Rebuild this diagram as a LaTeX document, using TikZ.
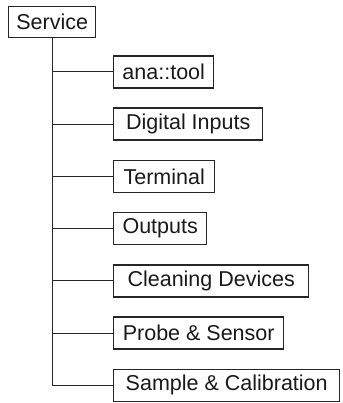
\documentclass[tikz,border=0pt]{standalone}
\usepackage{fontspec}
\setmainfont{Liberation Sans}
\begin{document}
\begin{tikzpicture}[x=1pt,y=-1pt,
  box/.style={draw=black!85, line width=1.4pt, minimum height=32pt, inner sep=0pt,
    font=\fontsize{21.5}{25}\selectfont, text=black!90, anchor=west},
  link/.style={draw=black!85, line width=1pt}]
\useasboundingbox (0,0) rectangle (342,403);
\node[box, minimum width=87pt, minimum height=31pt] (svc) at (8,22) {Service};
\node[box, minimum width=100pt] (a) at (113,72) {ana::tool};
\node[box, minimum width=149pt] (b) at (113,124.2) {Digital Inputs};
\node[box, minimum width=101pt] (c) at (113,176.4) {Terminal};
\node[box, minimum width=93pt] (d) at (113,228.6) {Outputs};
\node[box, minimum width=195pt] (e) at (113,280.8) {Cleaning Devices};
\node[box, minimum width=170pt] (f) at (113,333) {Probe \& Sensor};
\node[box, minimum width=226pt] (g) at (113,385.2) {Sample \& Calibration};
\draw[link] (svc.south) |- (g.west);
\foreach \n in {a,b,c,d,e,f}
  \draw[link] (svc.south |- \n.west) -- (\n.west);
\end{tikzpicture}
\end{document}
